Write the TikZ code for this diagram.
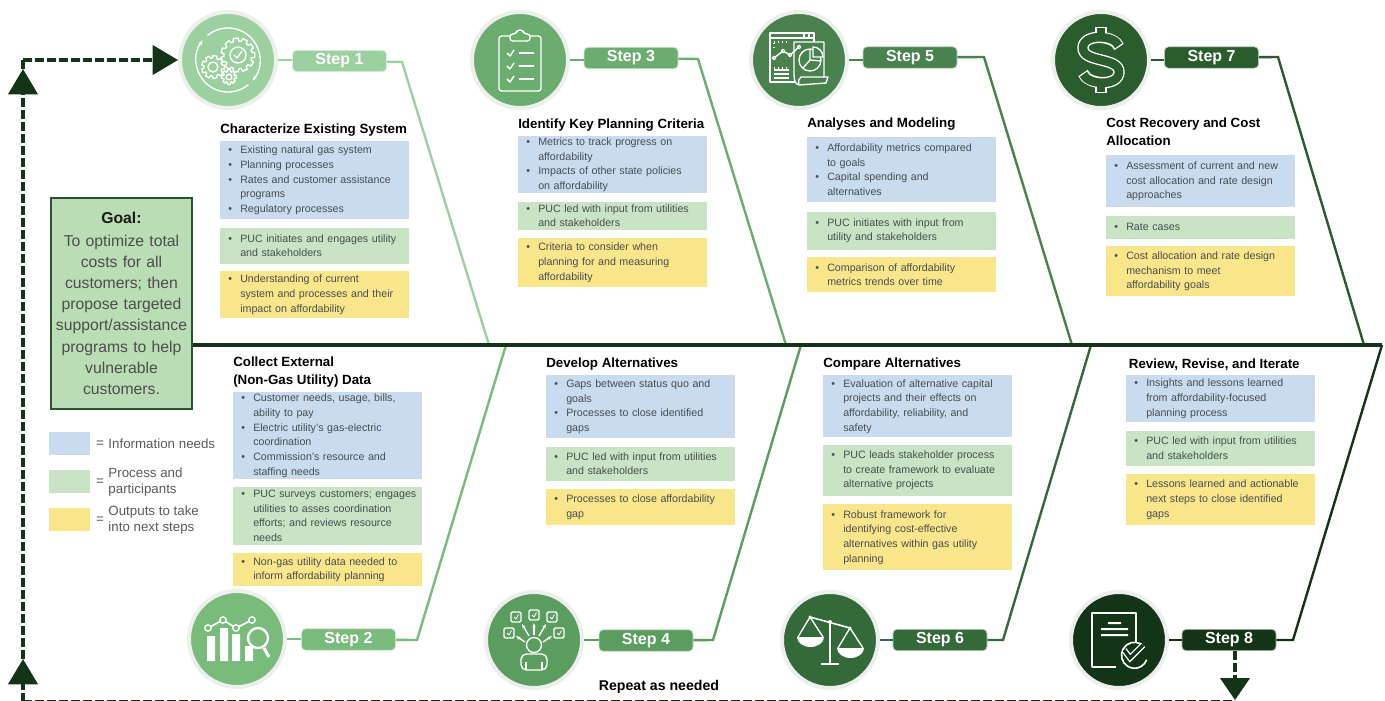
\documentclass[tikz,border=0pt]{standalone}
\usepackage{fontspec}
\setmainfont{Liberation Sans}
\usetikzlibrary{positioning, arrows.meta}

\definecolor{stepa}{HTML}{9DD0A0}
\definecolor{stepb}{HTML}{78BB7B}
\definecolor{stepc}{HTML}{6BAC6F}
\definecolor{stepd}{HTML}{5B9D5F}
\definecolor{stepe}{HTML}{49824E}
\definecolor{stepf}{HTML}{34693A}
\definecolor{stepg}{HTML}{2A5C2E}
\definecolor{steph}{HTML}{143418}
\definecolor{infoblue}{HTML}{C9DCEF}
\definecolor{procgreen}{HTML}{C9E4C5}
\definecolor{outyellow}{HTML}{FAE68A}
\definecolor{goalgreen}{HTML}{BBDDB6}
\definecolor{ringgray}{HTML}{EDEFEC}
\definecolor{bodygray}{HTML}{474D50}

\tikzset{
bh/.style={minimum height=#1*0.75pt}, % box height in reference pixels
textbox/.style={rectangle, anchor=north west, inner xsep=0pt, inner ysep=0pt, text width=141.75pt, align=left, text=bodygray, font=\fontsize{8}{11}\selectfont},
infobox/.style={textbox, fill=infoblue},
procbox/.style={textbox, fill=procgreen},
outbox/.style={textbox, fill=outyellow},
heading/.style={inner sep=0pt, align=left, text=black, font=\bfseries\fontsize{10}{13.5}\selectfont},
stepcircle/.style={circle, fill=#1, draw=ringgray, line width=3pt, minimum size=72pt, inner sep=0pt},
steppill/.style={rectangle, rounded corners=3pt, fill=#1, draw=#1!35, line width=.6pt, minimum width=70.5pt, minimum height=16pt, inner sep=0pt, text=white, font=\bfseries\fontsize{12}{12}\selectfont},
conn/.style={draw=#1, line width=1.8pt},
spineline/.style={draw=steph, line width=2.4pt},
dashline/.style={draw=steph, line width=2.4pt, dash pattern=on 6.5pt off 2.5pt},
bigtip/.style={-{Triangle[width=22pt, length=19pt]}},
icon/.style={draw=white, line width=1pt, line join=round},
swatch/.style={rectangle, anchor=north west, minimum width=30.75pt, minimum height=17.25pt, inner sep=0pt},
legendtext/.style={inner sep=0pt, align=left, text=black!65, font=\fontsize{10}{12}\selectfont},
}

\newcommand{\bitem}{\leavevmode\hbox to 15pt{\hss\textbullet\hss}}
\newcommand{\bcont}{\leavevmode\hspace*{15pt}}
% x, y, outer radius, inner radius, teeth
\newcommand{\cogwheel}[5]{%
  \pgfmathsetmacro{\gs}{360/#5}
  \begin{scope}[shift={(#1,#2)}]
    \draw[icon] ({-.25*\gs}:#3) \foreach \i in {1,...,#5}{ -- ({(\i-1)*\gs+.25*\gs}:#3) -- ({(\i-1)*\gs+.35*\gs}:#4) -- ({\i*\gs-.35*\gs}:#4) -- ({\i*\gs-.25*\gs}:#3)} -- cycle;
  \end{scope}
}

\begin{document}
\begin{tikzpicture}[x=0.75pt, y=-0.75pt]
    \useasboundingbox (0,0) rectangle (1385,700);

    \coordinate (sp0) at (191,345);
    \coordinate (sp1) at (1382,345);
    \coordinate (loopbl) at (23,701.5);
    \coordinate (loopbr) at (1235,701.5);
    \coordinate (tipb) at (23,659);
    \coordinate (tipa) at (23,69);
    \coordinate (corner) at (23,60);
    \coordinate (downend) at (1235,700);

    \coordinate (k1) at (402,62);
    \coordinate (e1) at (489,345);
    \coordinate (k2) at (417,640);
    \coordinate (e2) at (506,345);
    \coordinate (k3) at (698,59);
    \coordinate (e3) at (786,345);
    \coordinate (k4) at (713,640);
    \coordinate (e4) at (801,345);
    \coordinate (k5) at (984,57);
    \coordinate (e5) at (1072,345);
    \coordinate (k6) at (1003,640);
    \coordinate (e6) at (1091,345);
    \coordinate (k7) at (1278,57);
    \coordinate (e7) at (1364,345);
    \coordinate (k8) at (1293,640);
    \coordinate (e8) at (sp1);

    \node[stepcircle=stepa] (c1) at (228,60) {};
    \node[stepcircle=stepb] (c2) at (237,639) {};
    \node[stepcircle=stepc] (c3) at (520,60) {};
    \node[stepcircle=stepd] (c4) at (534,640) {};
    \node[stepcircle=stepe] (c5) at (799,60) {};
    \node[stepcircle=stepf] (c6) at (830,640) {};
    \node[stepcircle=stepg] (c7) at (1101,60) {};
    \node[stepcircle=steph] (c8) at (1119,640) {};

    \node[steppill=stepa] (s1) at (339.5,61) {Step 1};
    \node[steppill=stepb] (s2) at (348.5,639.5) {Step 2};
    \node[steppill=stepc] (s3) at (631,58) {Step 3};
    \node[steppill=stepd] (s4) at (646,640.5) {Step 4};
    \node[steppill=stepe] (s5) at (910,57.5) {Step 5};
    \node[steppill=stepf] (s6) at (940,640) {Step 6};
    \node[steppill=stepg] (s7) at (1211.5,57.5) {Step 7};
    \node[steppill=steph] (s8) at (1229,640) {Step 8};

    \foreach \n/\col in {1/stepa, 2/stepb, 3/stepc, 4/stepd, 5/stepe, 6/stepf, 7/stepg, 8/steph}{
        \draw[conn=\col] (c\n.east) -- (s\n.west |- c\n.east);
        \draw[conn=\col] (s\n) -- (k\n) -- (e\n);
    }

    \draw[spineline] (sp0) -- (sp1);

    % goal and legend
    \node[rectangle, anchor=north west, fill=goalgreen, draw=stepf!80!black, line width=1.5pt, minimum width=105.75pt, minimum height=158.25pt, inner sep=0pt, text width=105pt, align=center, text=black!70, font=\fontsize{11.8}{15.9}\selectfont] (goal) at (50,197)
        {{\bfseries\color{black!90}Goal:}\\[1pt] To optimize total\\ costs for all\\ customers; then\\ propose targeted\\ support/assistance\\ programs to help\\ vulnerable\\ customers.};

    \node[swatch, fill=infoblue] (lg1) at (49,432) {};
    \node[swatch, fill=procgreen] (lg2) at (49,470) {};
    \node[swatch, fill=outyellow] (lg3) at (49,508) {};
    \node[legendtext, right=4pt of lg1] (eq1) {=};
    \node[legendtext, right=4pt of lg2] (eq2) {=};
    \node[legendtext, right=4pt of lg3] (eq3) {=};
    \node[legendtext, right=3pt of eq1] (tx1) {Information needs};
    \node[legendtext, right=3pt of eq2] (tx2) {Process and\\participants};
    \node[legendtext, right=3pt of eq3] (tx3) {Outputs to take\\into next steps};

    % step 1
    \node[infobox, bh=78] (b1i) at (220,141) {\bitem Existing natural gas system\\ \bitem Planning processes\\ \bitem Rates and customer assistance\\ \bcont programs\\ \bitem Regulatory processes};
    \node[procbox, bh=36, below=6pt of b1i] (b1p) {\bitem PUC initiates and engages utility\\ \bcont and stakeholders};
    \node[outbox, bh=47, below=5.25pt of b1p] (b1o) {\bitem Understanding of current\\ \bcont system and processes and their\\ \bcont impact on affordability};
    \node[heading, above=3pt of b1i.north west, anchor=south west] (t1) {Characterize Existing System};

    % step 2
    \node[infobox, bh=87] (b2i) at (233,392) {\bitem Customer needs, usage, bills,\\ \bcont ability to pay\\ \bitem Electric utility’s gas-electric\\ \bcont coordination\\ \bitem Commission’s resource and\\ \bcont staffing needs};
    \node[procbox, bh=58, below=5.25pt of b2i] (b2p) {\bitem PUC surveys customers; engages\\ \bcont utilities to asses coordination\\ \bcont efforts; and reviews resource\\ \bcont needs};
    \node[outbox, bh=33, below=6pt of b2p] (b2o) {\bitem Non-gas utility data needed to\\ \bcont inform affordability planning};
    \node[heading, above=3pt of b2i.north west, anchor=south west] (t2) {Collect External\\(Non-Gas Utility) Data};

    % step 3
    \node[infobox, bh=57] (b3i) at (518,136) {\bitem Metrics to track progress on\\ \bcont affordability\\ \bitem Impacts of other state policies\\ \bcont on affordability};
    \node[procbox, bh=28, below=6pt of b3i] (b3p) {\bitem PUC led with input from utilities\\ \bcont and stakeholders};
    \node[outbox, bh=49, below=6pt of b3p] (b3o) {\bitem Criteria to consider when\\ \bcont planning for and measuring\\ \bcont affordability};
    \node[heading, above=3pt of b3i.north west, anchor=south west] (t3) {Identify Key Planning Criteria};

    % step 4
    \node[infobox, bh=63] (b4i) at (546,375) {\bitem Gaps between status quo and\\ \bcont goals\\ \bitem Processes to close identified\\ \bcont gaps};
    \node[procbox, bh=34, below=6pt of b4i] (b4p) {\bitem PUC led with input from utilities\\ \bcont and stakeholders};
    \node[outbox, bh=36, below=6pt of b4p] (b4o) {\bitem Processes to close affordability\\ \bcont gap};
    \node[heading, above=3pt of b4i.north west, anchor=south west] (t4) {Develop Alternatives};

    % step 5
    \node[infobox, bh=65] (b5i) at (807,137) {\bitem Affordability metrics compared\\ \bcont to goals\\ \bitem Capital spending and\\ \bcont alternatives};
    \node[procbox, bh=38, below=6.75pt of b5i] (b5p) {\bitem PUC initiates with input from\\ \bcont utility and stakeholders};
    \node[outbox, bh=35, below=5.25pt of b5p] (b5o) {\bitem Comparison of affordability\\ \bcont metrics trends over time};
    \node[heading, above=4.5pt of b5i.north west, anchor=south west] (t5) {Analyses and Modeling};

    % step 6
    \node[infobox, bh=62] (b6i) at (823,375) {\bitem Evaluation of alternative capital\\ \bcont projects and their effects on\\ \bcont affordability, reliability, and\\ \bcont safety};
    \node[procbox, bh=51, below=5.25pt of b6i] (b6p) {\bitem PUC leads stakeholder process\\ \bcont to create framework to evaluate\\ \bcont alternative projects};
    \node[outbox, bh=66, below=6pt of b6p] (b6o) {\bitem Robust framework for\\ \bcont identifying cost-effective\\ \bcont alternatives within gas utility\\ \bcont planning};
    \node[heading, above=3pt of b6i.north west, anchor=south west] (t6) {Compare Alternatives};

    % step 7
    \node[infobox, bh=52] (b7i) at (1106,155) {\bitem Assessment of current and new\\ \bcont cost allocation and rate design\\ \bcont approaches};
    \node[procbox, bh=23, below=6pt of b7i] (b7p) {\bitem Rate cases};
    \node[outbox, bh=50, below=5.25pt of b7p] (b7o) {\bitem Cost allocation and rate design\\ \bcont mechanism to meet\\ \bcont affordability goals};
    \node[heading, above=6.5pt of b7i.north west, anchor=south west] (t7) {Cost Recovery and Cost\\Allocation};

    % step 8
    \node[infobox, bh=47] (b8i) at (1126,375) {\bitem Insights and lessons learned\\ \bcont from affordability-focused\\ \bcont planning process};
    \node[procbox, bh=35, below=6pt of b8i] (b8p) {\bitem PUC led with input from utilities\\ \bcont and stakeholders};
    \node[outbox, bh=51, below=6pt of b8p] (b8o) {\bitem Lessons learned and actionable\\ \bcont next steps to close identified\\ \bcont gaps};
    \node[heading, above=3.5pt of b8i.north west, anchor=south west, xshift=2pt] (t8) {Review, Revise, and Iterate};

    \node[heading, font=\bfseries\fontsize{10.6}{12}\selectfont] (repeat) at (659,687) {Repeat as needed};

    % feedback loop
    \draw[dashline] (loopbl) -- (loopbr);
    \draw[dashline, bigtip] (loopbl) -- (tipb);
    \draw[dashline, bigtip] (tipb) -- (tipa);
    \draw[dashline] (tipa) -- (corner);
    \draw[dashline, bigtip] (corner) -- (c1);
    \draw[dashline, -{Triangle[width=22pt, length=16.5pt]}] (s8.south -| downend) -- (downend);

    % icon gears
    \begin{scope}[shift={(c1)}]
        \draw[icon, -{Stealth[length=4pt]}] (230:32) arc[start angle=230, end angle=400, radius=32];
        \draw[icon, -{Stealth[length=4pt]}] (50:32) arc[start angle=50, end angle=218, radius=32];
        \cogwheel{10}{-5}{17}{14}{11}
        \draw[icon] (10,-5) circle (8);
        \draw[icon] (6,-5) -- (9,-2) -- (14,-9);
        \cogwheel{-15}{7}{11.5}{9}{9}
        \draw[icon] (-15,7) circle (5);
        \cogwheel{1}{17}{7.5}{5.5}{8}
        \draw[icon] (1,17) circle (2.8);
    \end{scope}

    % icon chart and lens
    \begin{scope}[shift={(c2)}]
        \fill[white] (-30,22) rectangle (-22,-3) (-17,22) rectangle (-9,-11) (-5,22) rectangle (3,-5) (8,22) rectangle (16,7);
        \draw[icon, line width=1.2pt] (-29,-11) -- (-14,-19) -- (-1,-11) -- (15,-19);
        \foreach \p in {(-29,-11), (-14,-19), (-1,-11), (15,-19)}
            \draw[icon, fill=stepb] \p circle (3.2);
        \draw[icon, line width=1.8pt, fill=stepb] (21,-1) circle (10);
        \draw[icon, line width=2.4pt] (27,9) -- (32,18);
    \end{scope}

    % icon clipboard
    \begin{scope}[shift={(c3)}]
        \draw[icon, rounded corners=2pt] (-21,-24) rectangle (21,31);
        \draw[icon, fill=stepc, rounded corners=2pt] (-10,-19) -- (-10,-26) -- (-4,-26) -- (-3,-30) -- (3,-30) -- (4,-26) -- (10,-26) -- (10,-19) -- cycle;
        \foreach \ya in {-7, 6, 19}{
            \draw[icon, line width=1.1pt] (-13,\ya) -- (-10,{\ya+3}) -- (-6,{\ya-3});
            \draw[icon, line width=1.1pt] (-1,\ya) -- (14,\ya);
        }
    \end{scope}

    % icon person and choices
    \begin{scope}[shift={(c4)}]
        \draw[icon] (0,5) circle (7.5);
        \draw[icon, rounded corners=4pt] (-13,30) -- (-13,14) -- (13,14) -- (13,30) -- cycle;
        \draw[icon] (-8,22) -- (-8,30) (8,22) -- (8,30);
        \foreach \bx/\by in {-18/-23, 0/-25, 18/-23, -25/-7, 25/-7}{
            \draw[icon, rounded corners=1pt] ({\bx-5},{\by-5}) rectangle ({\bx+5},{\by+5});
            \draw[icon, line width=.6pt] ({\bx-2},\by) -- (\bx,{\by+2}) -- ({\bx+2.5},{\by-2.5});
        }
        \draw[icon, -{Stealth[length=3.5pt]}] (-5,-4) -- (-12,-16);
        \draw[icon, -{Stealth[length=3.5pt]}] (0,-5) -- (0,-17);
        \draw[icon, -{Stealth[length=3.5pt]}] (5,-4) -- (12,-16);
        \draw[icon, -{Stealth[length=3.5pt]}] (-9,2) -- (-18,-4);
        \draw[icon, -{Stealth[length=3.5pt]}] (9,2) -- (18,-4);
    \end{scope}

    % icon report
    \begin{scope}[shift={(c5)}]
        \draw[icon] (-3,22) -- (-29,22) -- (-29,-27) -- (15,-27) -- (15,-18);
        \draw[icon] (-29,-22) -- (15,-22) (5,-27) -- (5,-22) (10,-27) -- (10,-22);
        \draw[icon, fill=stepe] (-5,-18) -- (25,-18) -- (25,17) -- (29,17) -- (27,23) -- (0,25) .. controls (-4,24) and (-5,20) .. (-5,14) -- cycle;
        \draw[icon] (25,17) -- (2,17) .. controls (0,18) and (-1,21) .. (0,25);
        \draw[icon] (-25,-2) -- (-16,-9) -- (-9,-5) -- (0,-13);
        \foreach \p in {(-25,-2), (-16,-9), (-9,-5), (0,-13)}
            \draw[icon, fill=stepe] \p circle (1.7);
        \draw[icon, dotted, line width=1pt] (-25,-18) -- (-10,-18) (-25,-17) -- (-25,-9) (-25,8) -- (-10,8);
        \draw[icon] (-25,14) -- (-10,14) (-25,18) -- (-10,18) (-25,10) -- (-10,10);
        \draw[icon] (11,0) circle (11);
        \draw[icon] (11,0) -- (11,-11) (11,0) -- (22,1) (11,0) -- (4,8);
        \draw[icon, fill=stepe] (14,-13) -- (14,-3) -- (24,-3) arc[start angle=0, end angle=-90, radius=10] -- cycle;
    \end{scope}

    % icon scales
    \begin{scope}[shift={(c6)}]
        \draw[icon, line width=1.6pt] (0,-18) -- (0,24) (-9,24) -- (9,24);
        \draw[icon, line width=1.2pt] (-20,-23) -- (20,-12);
        \draw[icon] (-32,-3) -- (-20,-23) -- (-7,-3) (8,8) -- (20,-12) -- (33,8);
        \fill[white] (-33,-3) -- (-6,-3) arc[start angle=0, end angle=180, x radius=13.5, y radius=10] -- cycle;
        \fill[white] (7,8) -- (34,8) arc[start angle=0, end angle=180, x radius=13.5, y radius=10] -- cycle;
        \fill[white] (-20,-23) circle (1.6) (0,-18) circle (2) (20,-12) circle (1.6);
    \end{scope}

    % icon dollar
    \begin{scope}[shift={(c7)}]
        \draw[white, line width=8.5pt] (0,-33) -- (0,-20) (0,20) -- (0,33);
        \draw[white, line width=8.5pt] (18,-13) .. controls (14,-25) and (-18,-27) .. (-18,-12) .. controls (-18,3) and (18,-3) .. (18,12) .. controls (18,27) and (-14,25) .. (-18,13);
        \draw[stepg, line width=6.5pt] (0,-32) -- (0,-20) (0,20) -- (0,32);
        \draw[stepg, line width=6.5pt, shorten <=1pt, shorten >=1pt] (18,-13) .. controls (14,-25) and (-18,-27) .. (-18,-12) .. controls (-18,3) and (18,-3) .. (18,12) .. controls (18,27) and (-14,25) .. (-18,13);
    \end{scope}

    % icon document with check
    \begin{scope}[shift={(c8)}]
        \draw[icon, line width=1.2pt] (17,2) -- (17,-27) -- (-27,-27) -- (-27,27) -- (-3,27);
        \fill[white] (-11,-18) rectangle (2,-16) (-18,-12) rectangle (9,-10) (-18,-6) rectangle (9,-4);
        \draw[icon, line width=1.2pt] (22,4) arc[start angle=-60, end angle=-300, radius=13] arc[start angle=60, end angle=20, radius=13];
        \draw[white, line width=4.5pt] (5,10) -- (11,18) -- (24,5);
        \draw[steph, line width=2.5pt] (5,10) -- (11,18) -- (24,5);
    \end{scope}
\end{tikzpicture}
\end{document}
